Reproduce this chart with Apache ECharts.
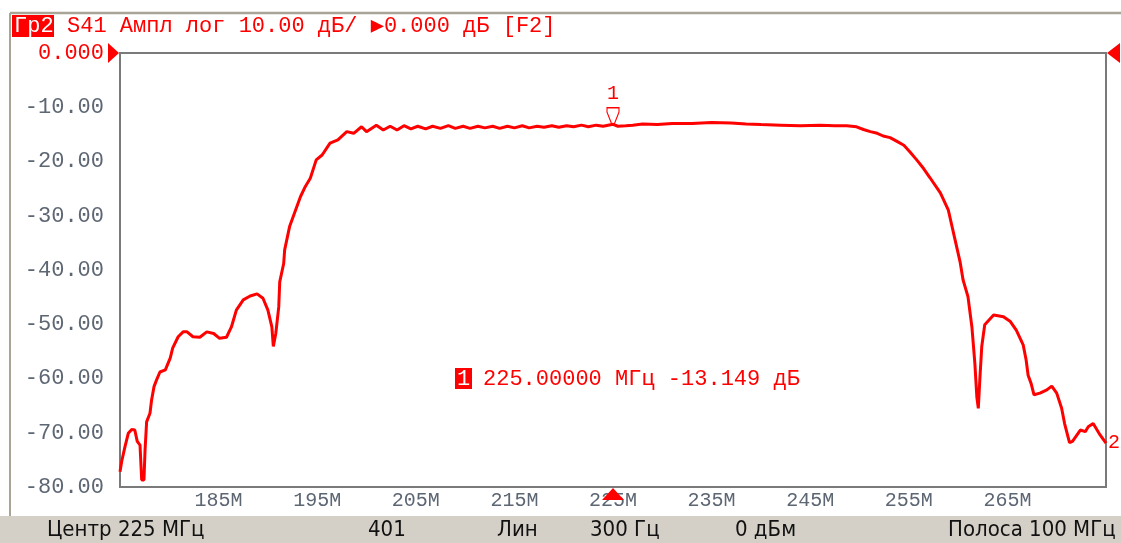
<!DOCTYPE html>
<html><head><meta charset="utf-8">
<script src="https://cdn.jsdelivr.net/npm/echarts@6/dist/echarts.min.js"></script>
<style>html,body{margin:0;padding:0;background:#fff}#c{width:1121px;height:543px}</style>
</head><body><div id="c"></div>
<script>
// ---- data (frequency in MHz, S41 magnitude in dB) ----
const freq = [175.0,175.17,175.5,175.84,176.19,176.5,176.75,177.03,177.2,177.43,177.54,177.7,178.04,178.2,178.45,178.7,179.05,179.6,180.1,180.34,180.9,181.4,181.8,182.4,183.1,183.8,184.5,185.1,185.8,186.3,186.8,187.5,188.2,188.9,189.5,190.0,190.4,190.55,190.8,191.1,191.2,191.6,191.7,192.2,192.7,193.3,193.8,194.3,194.9,195.5,196.3,197.1,198.0,198.7,199.5,200.0,201.0,201.7,202.4,203.1,203.8,204.5,205.2,206.0,206.7,207.5,208.3,209.0,209.8,210.5,211.3,212.0,212.8,213.5,214.3,215.0,215.8,216.5,217.3,218.0,218.8,219.5,220.3,221.0,221.8,222.5,223.3,224.0,225.0,225.5,226.3,227.0,228.0,229.5,231.0,233.0,235.0,237.0,238.5,240.0,242.0,244.0,246.0,247.5,248.7,249.7,250.4,251.1,251.8,252.4,253.1,253.8,254.5,255.1,255.8,256.5,257.15,258.2,259.0,259.7,260.2,260.5,261.0,261.4,261.7,261.9,262.05,262.2,262.4,262.7,263.6,264.6,265.3,265.9,266.6,266.9,267.1,267.4,267.7,268.3,269.0,269.5,270.0,270.5,270.8,271.3,271.6,272.4,272.9,273.2,273.7,274.4,275.0];
const s41 = [-77.2,-75.3,-72.6,-70.1,-69.4,-69.5,-71.6,-72.3,-78.7,-78.7,-73.2,-68.0,-66.4,-64.0,-61.5,-60.3,-58.8,-58.4,-56.2,-54.4,-52.3,-51.4,-51.4,-52.3,-52.4,-51.4,-51.7,-52.6,-52.4,-50.5,-47.4,-45.5,-44.8,-44.4,-45.2,-47.4,-50.5,-54.1,-51.7,-46.8,-42.2,-38.8,-36.3,-32.0,-29.5,-26.5,-24.6,-23.1,-19.7,-18.8,-16.6,-16.0,-14.5,-14.8,-13.6,-14.5,-13.3,-14.2,-13.5,-14.2,-13.4,-14.0,-13.5,-14.0,-13.5,-13.9,-13.4,-13.9,-13.5,-13.9,-13.5,-13.8,-13.5,-13.9,-13.5,-13.8,-13.4,-13.8,-13.5,-13.7,-13.4,-13.7,-13.4,-13.6,-13.3,-13.6,-13.3,-13.5,-13.149,-13.5,-13.4,-13.3,-13.1,-13.2,-13.0,-13.0,-12.8,-12.9,-13.1,-13.2,-13.3,-13.4,-13.3,-13.4,-13.4,-13.6,-14.1,-14.5,-14.8,-15.3,-15.6,-16.3,-17.0,-18.2,-19.7,-21.3,-23.0,-25.8,-28.9,-34.5,-38.5,-41.8,-44.9,-50.5,-57.2,-63.4,-65.5,-60.3,-54.1,-50.1,-48.3,-48.6,-49.5,-51.1,-53.8,-56.6,-59.4,-60.9,-63.0,-62.7,-62.1,-61.4,-62.7,-65.5,-68.3,-71.8,-71.6,-69.5,-69.8,-68.9,-68.3,-70.4,-71.9];
const xRange = [175, 275];          // MHz, center 225, span 100
const xStep = 10;
const yRange = [-80, 0];            // dB
const yStep = 10;
const marker1 = [225.0, -13.149];
const headerTag = 'Гр2';
const headerText = 'S41 Ампл лог 10.00 дБ/ ▶0.000 дБ [F2]';
const markerText = '225.00000 МГц -13.149 дБ';
const statusTexts = ['Центр 225 МГц', '401', 'Лин', '300 Гц', '0 дБм', 'Полоса 100 МГц'];
// ---- layout ----
const statusX = [47, 368, 497, 590, 735, 948];
const RED = '#ff0000';
const LBL = '#5d6673';
const MONO = '"Liberation Mono", "DejaVu Sans Mono", monospace';
const COND = '"DejaVu Sans Condensed", "DejaVu Sans", sans-serif';

const chart = echarts.init(document.getElementById('c'), null, {renderer: 'canvas'});
const pts = freq.map((f, i) => [f, s41[i]]);

const option = {
  animation: false,
  backgroundColor: '#ffffff',
  grid: {left: 120, top: 53, width: 986, height: 434, show: true, backgroundColor: '#ffffff', borderColor: '#7a7a7a', borderWidth: 2, z: 1},
  xAxis: {
    type: 'value', min: xRange[0], max: xRange[1], interval: xStep,
    axisLine: {show: false}, axisTick: {show: false},
    splitLine: {show: true, lineStyle: {color: '#d6d6d6', width: 2}},
    axisLabel: {margin: 4, color: LBL, fontFamily: MONO, fontSize: 20,
      formatter: v => (v === xRange[0] || v === xRange[1]) ? '' : v + 'M'}
  },
  yAxis: {
    type: 'value', min: yRange[0], max: yRange[1], interval: yStep,
    axisLine: {show: false}, axisTick: {show: false},
    splitLine: {show: true, lineStyle: {color: '#d6d6d6', width: 2}},
    axisLabel: {margin: 16, color: LBL, fontFamily: MONO, fontSize: 22,
      formatter: v => v === 0 ? '{r|0.000}' : v.toFixed(2),
      rich: {r: {color: RED, fontFamily: MONO, fontSize: 22}}}
  },
  series: [{
    type: 'line', data: pts, showSymbol: false, symbol: 'none',
    lineStyle: {color: RED, width: 3}, z: 5,
    endLabel: {show: true, formatter: '2', color: RED, fontFamily: MONO, fontSize: 20, distance: 2},
    markPoint: {
      symbol: 'path://M0,0 L12,0 L12,4 L7,16 L5,16 L0,4 Z',
      symbolSize: [12, 17], symbolOffset: [0, -8],
      itemStyle: {color: '#ffffff', borderColor: RED, borderWidth: 1.3},
      label: {show: true, position: 'top', distance: 3, formatter: '1', color: RED, fontFamily: MONO, fontSize: 20},
      data: [{coord: marker1}]
    }
  }]
};
chart.setOption(option);

const pTL = chart.convertToPixel({gridIndex: 0}, [xRange[0], yRange[1]]);
const pTR = chart.convertToPixel({gridIndex: 0}, [xRange[1], yRange[1]]);
const pB = chart.convertToPixel({gridIndex: 0}, [marker1[0], yRange[0]]);

const g = [
  // outer frame
  {type: 'line', shape: {x1: 10, y1: 13, x2: 1121, y2: 13}, style: {stroke: '#a9a596', lineWidth: 2.5}},
  {type: 'line', shape: {x1: 10, y1: 13, x2: 10, y2: 516}, style: {stroke: '#a9a596', lineWidth: 2}},
  // status bar
  {type: 'rect', shape: {x: 0, y: 516, width: 1121, height: 27}, style: {fill: '#d4d0c8'}},
  // header
  {type: 'rect', shape: {x: 12, y: 15, width: 42, height: 22}, style: {fill: RED}},
  {type: 'text', x: 14, y: 26, style: {text: headerTag, fill: '#ffffff', fontFamily: MONO, fontSize: 22, verticalAlign: 'middle'}},
  {type: 'text', x: 67, y: 26, style: {text: headerText, fill: RED, fontFamily: MONO, fontSize: 22, verticalAlign: 'middle'}},
  // reference level triangles
  {type: 'polygon', shape: {points: [[pTL[0] - 1, pTL[1]], [pTL[0] - 12, pTL[1] - 10], [pTL[0] - 12, pTL[1] + 10]]}, style: {fill: RED}, z: 10},
  {type: 'polygon', shape: {points: [[pTR[0] + 1, pTR[1]], [pTR[0] + 14, pTR[1] - 10], [pTR[0] + 14, pTR[1] + 10]]}, style: {fill: RED}, z: 10},
  {type: 'polygon', shape: {points: [[pB[0], pB[1] + 1], [pB[0] - 11, pB[1] + 13], [pB[0] + 11, pB[1] + 13]]}, style: {fill: RED}, z: 10},
  // marker readout
  {type: 'rect', shape: {x: 455, y: 368, width: 17, height: 21}, style: {fill: RED}, z: 10},
  {type: 'text', x: 457, y: 379, style: {text: '1', fill: '#ffffff', fontFamily: MONO, fontSize: 22, verticalAlign: 'middle'}, z: 11},
  {type: 'text', x: 483, y: 379, style: {text: markerText, fill: RED, fontFamily: MONO, fontSize: 22, verticalAlign: 'middle'}, z: 10}
];
statusTexts.forEach((t, i) => {
  g.push({type: 'text', x: statusX[i], y: 530, style: {text: t, fill: '#111111', fontFamily: COND, fontSize: 22, verticalAlign: 'middle'}, z: 10});
});
chart.setOption({graphic: g});
</script>
</body></html>
